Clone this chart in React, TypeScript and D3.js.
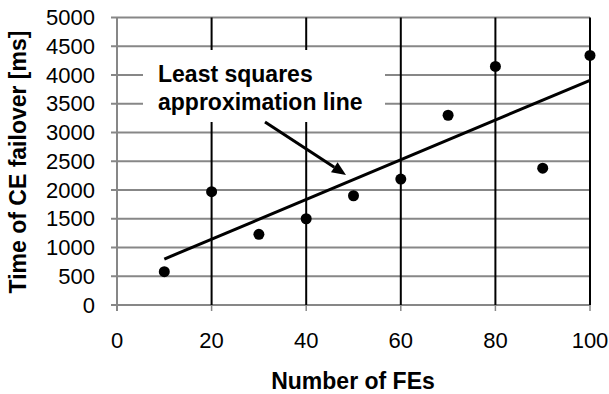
import React from "react";
import * as d3 from "d3";

const xValues = [10, 20, 30, 40, 50, 60, 70, 80, 90, 100];
const yValues = [580, 1970, 1230, 1500, 1900, 2190, 3300, 4150, 2380, 4340];
const xTicks = [0, 20, 40, 60, 80, 100];
const yTicks = [0, 500, 1000, 1500, 2000, 2500, 3000, 3500, 4000, 4500, 5000];
const blackGridX = [20, 40, 60, 80, 100];
const annotationLines = ["Least squares", "approximation line"];
const xTitle = "Number of FEs";
const yTitle = "Time of CE failover [ms]";

const W = 609;
const H = 394;
const FONT = "'Liberation Sans', Arial, sans-serif";

export default function App() {
  const x = d3.scaleLinear().domain([0, 100]).range([117, 590]);
  const y = d3.scaleLinear().domain([0, 5000]).range([305, 17.5]);

  const mx = d3.mean(xValues)!;
  const my = d3.mean(yValues)!;
  const sxy = d3.sum(xValues.map((v, i) => (v - mx) * (yValues[i] - my)));
  const sxx = d3.sum(xValues.map((v) => (v - mx) * (v - mx)));
  const slope = sxy / sxx;
  const icpt = my - slope * mx;
  const x0 = xValues[0];
  const x1 = xValues[xValues.length - 1];
  const linePath = d3.line<number>()
    .x((d) => x(d))
    .y((d) => y(icpt + slope * d))([x0, x1]) as string;

  const gray = "#878787";

  // arrow (annotation pointer)
  const ax0 = 265, ay0 = 122, ax1 = 346, ay1 = 175;
  const ang = Math.atan2(ay1 - ay0, ax1 - ax0);
  const hl = 14, hw = 6;
  const bx = ax1 - hl * Math.cos(ang);
  const by = ay1 - hl * Math.sin(ang);
  const px = -Math.sin(ang), py = Math.cos(ang);
  const head = `M${ax1},${ay1} L${bx + hw * px},${by + hw * py} L${bx - hw * px},${by - hw * py} Z`;

  return (
    <svg width={W} height={H} style={{ position: "absolute", left: 0, top: 0, background: "#fff" }}>
      <rect x={0} y={0} width={W} height={H} fill="#fff" />
      {yTicks.map((t) => (
        <line key={"h" + t} x1={111} x2={x(100)} y1={y(t)} y2={y(t)} stroke={gray} strokeWidth={2} />
      ))}
      {xTicks.map((t) => (
        <line key={"xt" + t} x1={x(t)} x2={x(t)} y1={y(0)} y2={y(0) + 6} stroke={gray} strokeWidth={1.5} />
      ))}
      <line x1={x(0)} x2={x(0)} y1={y(5000)} y2={y(0) + 6} stroke={gray} strokeWidth={2} />
      {blackGridX.map((t) => (
        <line key={"v" + t} x1={x(t)} x2={x(t)} y1={y(5000)} y2={y(0)} stroke="#000" strokeWidth={2} />
      ))}
      {yTicks.map((t) => (
        <text key={"yl" + t} x={95} y={y(t)} dy="0.35em" textAnchor="end" fontFamily={FONT} fontSize={22} fill="#000">
          {t}
        </text>
      ))}
      {xTicks.map((t) => (
        <text key={"xl" + t} x={x(t)} y={348} textAnchor="middle" fontFamily={FONT} fontSize={22} fill="#000">
          {t}
        </text>
      ))}
      <text x={353} y={389} textAnchor="middle" fontFamily={FONT} fontSize={23} fontWeight="bold" fill="#000">
        {xTitle}
      </text>
      <text
        transform={`translate(26,162) rotate(-90)`}
        textAnchor="middle"
        fontFamily={FONT}
        fontSize={23}
        fontWeight="bold"
        fill="#000"
      >
        {yTitle}
      </text>
      <path d={linePath} stroke="#000" strokeWidth={3} fill="none" />
      {xValues.map((v, i) => (
        <circle key={"p" + i} cx={x(v)} cy={y(yValues[i])} r={5.5} fill="#000" />
      ))}
      <rect x={143} y={50} width={242} height={72} fill="#fff" />
      {annotationLines.map((s, i) => (
        <text key={"a" + i} x={158} y={82 + i * 28} fontFamily={FONT} fontSize={23} fontWeight="bold" fill="#000">
          {s}
        </text>
      ))}
      <line x1={ax0} y1={ay0} x2={bx} y2={by} stroke="#000" strokeWidth={3} />
      <path d={head} fill="#000" />
    </svg>
  );
}
